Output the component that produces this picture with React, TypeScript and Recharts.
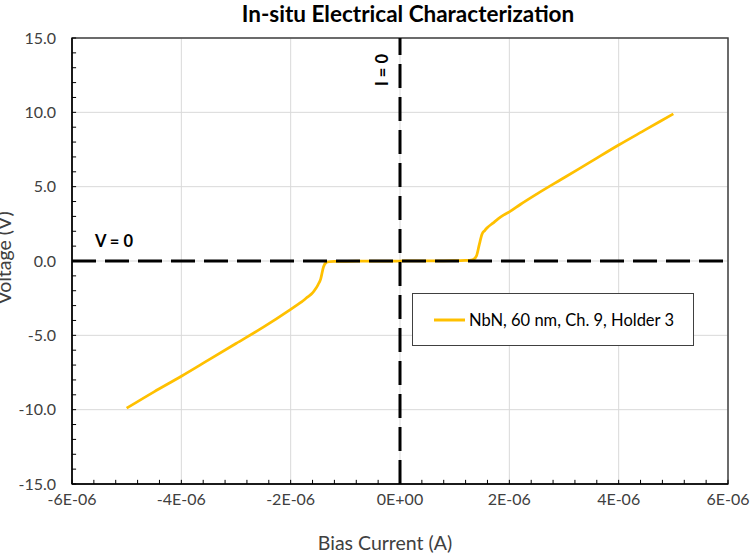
import {
  LineChart,
  Line,
  XAxis,
  YAxis,
  CartesianGrid,
  ReferenceLine,
  ReferenceArea,
  Legend,
  Customized,
} from 'recharts';

const FONT = 'Lato, "Open Sans", sans-serif';

// bias current (A) and measured voltage (V)
const currents = [
  -5.0e-6, -4.5e-6, -4.0e-6, -3.5e-6, -3.0e-6, -2.5e-6, -2.0e-6, -1.9e-6, -1.8e-6, -1.7e-6,
  -1.6e-6, -1.55e-6, -1.5e-6, -1.45e-6, -1.4e-6, -1.35e-6, -1.3e-6, -1.2e-6, -1.0e-6, -0.5e-6,
  0, 0.5e-6, 1.0e-6, 1.2e-6, 1.3e-6, 1.35e-6, 1.4e-6, 1.45e-6, 1.5e-6, 1.55e-6,
  1.6e-6, 1.7e-6, 1.8e-6, 1.9e-6, 2.0e-6, 2.2e-6, 2.5e-6, 3.0e-6, 3.5e-6, 4.0e-6,
  4.5e-6, 5.0e-6,
];
const voltages = [
  -9.9, -8.8, -7.75, -6.65, -5.55, -4.45, -3.25, -3.0, -2.75, -2.45,
  -2.15, -1.9, -1.6, -1.2, -0.4, -0.1, -0.05, -0.03, -0.02, -0.01,
  0, 0.01, 0.02, 0.04, 0.06, 0.12, 0.35, 1.1, 1.8, 2.05,
  2.25, 2.55, 2.85, 3.1, 3.3, 3.8, 4.5, 5.6, 6.7, 7.8,
  8.85, 9.9,
];

const xTicks = [-6e-6, -4e-6, -2e-6, 0, 2e-6, 4e-6, 6e-6];
const yTicks = [-15, -10, -5, 0, 5, 10, 15];
const seriesName = 'NbN, 60 nm, Ch. 9, Holder 3';

const X_MIN = -6e-6;
const X_MAX = 6e-6;
const Y_MIN = -15;
const Y_MAX = 15;

// minor tick marks (inside the plot): 5 per major step on x, every 1 V on y
const xMinor = Array.from({ length: 31 }, (_, i) => X_MIN + i * 0.4e-6);
const yMinor = Array.from({ length: 31 }, (_, i) => Y_MIN + i);
const X_TICK_LEN = 0.075e-6; // ~4px in data units
const Y_TICK_LEN = 0.28; // ~4px in data units

const data = currents.map((c, i) => ({ current: c, voltage: voltages[i] }));

const sciFormat = (v: number) => {
  const [m, e] = v.toExponential(0).split('e');
  return `${m}E${e[0]}${e.slice(1).padStart(2, '0')}`;
};

const tickStyle = { fontFamily: FONT, fontSize: 16, fill: '#404040' };

function Titles() {
  return (
    <g fontFamily={FONT} fill="#404040">
      <text x={408} y={22} textAnchor="middle" fontSize={22.5} fontWeight={700} fill="#000">
        In-situ Electrical Characterization
      </text>
      <text x={385} y={550} textAnchor="middle" fontSize={19.5}>
        Bias Current (A)
      </text>
      <text
        x={3}
        y={258}
        textAnchor="middle"
        dominantBaseline="central"
        fontSize={19.5}
        transform="rotate(-90 3 258)"
      >
        Voltage (V)
      </text>
    </g>
  );
}

function LegendBox({ payload }: any) {
  const item = payload && payload[0];
  return (
    <div
      style={{
        display: 'flex',
        alignItems: 'center',
        height: '100%',
        paddingLeft: 21,
        fontFamily: FONT,
        fontSize: 16.5,
        color: '#000',
      }}
    >
      <svg width={31} height={6} style={{ marginRight: 4 }}>
        <line x1={0} y1={3} x2={31} y2={3} stroke={item?.color || '#FFC000'} strokeWidth={3} />
      </svg>
      <span>{item?.value}</span>
    </div>
  );
}

export default function App() {
  return (
    <div style={{ position: 'absolute', left: 0, top: 0 }}>
      <LineChart
        width={756}
        height={555}
        data={data}
        margin={{ top: 38, right: 28, bottom: 0, left: 0 }}
      >
        <CartesianGrid stroke="#d9d9d9" strokeWidth={1} />
        <ReferenceArea
          x1={X_MIN}
          x2={X_MAX}
          y1={Y_MIN}
          y2={Y_MAX}
          fill="none"
          stroke="#404040"
          strokeWidth={1.5}
        />
        {xMinor.map((v) => (
          <ReferenceLine
            key={`xm-${v}`}
            segment={[
              { x: v, y: Y_MIN },
              { x: v, y: Y_MIN + Y_TICK_LEN },
            ]}
            stroke="#000"
            strokeWidth={1}
          />
        ))}
        {yMinor.map((v) => (
          <ReferenceLine
            key={`ym-${v}`}
            segment={[
              { x: X_MIN, y: v },
              { x: X_MIN + X_TICK_LEN, y: v },
            ]}
            stroke="#000"
            strokeWidth={1}
          />
        ))}
        <XAxis
          dataKey="current"
          type="number"
          domain={[X_MIN, X_MAX]}
          ticks={xTicks}
          tickFormatter={sciFormat}
          tick={tickStyle}
          tickLine={false}
          tickSize={6}
          tickMargin={4}
          axisLine={{ stroke: '#000', strokeWidth: 1.5 }}
          height={71}
          interval={0}
        />
        <YAxis
          type="number"
          domain={[Y_MIN, Y_MAX]}
          ticks={yTicks}
          tickFormatter={(v: number) => v.toFixed(1)}
          tick={tickStyle}
          tickLine={false}
          tickSize={6}
          tickMargin={10}
          axisLine={{ stroke: '#000', strokeWidth: 1.5 }}
          width={72}
          interval={0}
        />
        <Line
          type="monotone"
          dataKey="voltage"
          name={seriesName}
          stroke="#FFC000"
          strokeWidth={2.75}
          dot={false}
          isAnimationActive={false}
        />
        <ReferenceLine
          y={0}
          stroke="#000"
          strokeWidth={3}
          strokeDasharray="24 9"
          label={({ viewBox }: any) => (
            <text
              x={viewBox.x + 23}
              y={viewBox.y - 14}
              fontFamily={FONT}
              fontSize={16.5}
              fontWeight={700}
              fill="#000"
            >
              V = 0
            </text>
          )}
        />
        <ReferenceLine
          x={0}
          stroke="#000"
          strokeWidth={3}
          strokeDasharray="24 9"
          label={({ viewBox }: any) => {
            const cx = viewBox.x - 18;
            const cy = viewBox.y + 32;
            return (
              <text
                x={cx}
                y={cy}
                textAnchor="middle"
                dominantBaseline="central"
                transform={`rotate(-90 ${cx} ${cy})`}
                fontFamily={FONT}
                fontSize={16.5}
                fontWeight={700}
                fill="#000"
              >
                I = 0
              </text>
            );
          }}
        />
        <Legend
          layout="horizontal"
          verticalAlign="middle"
          align="center"
          content={<LegendBox />}
          wrapperStyle={{
            left: 412,
            top: 293,
            width: 282,
            height: 53,
            border: '1.5px solid #404040',
            background: '#fff',
            boxSizing: 'border-box',
          }}
        />
        <Customized component={<Titles />} />
      </LineChart>
    </div>
  );
}
